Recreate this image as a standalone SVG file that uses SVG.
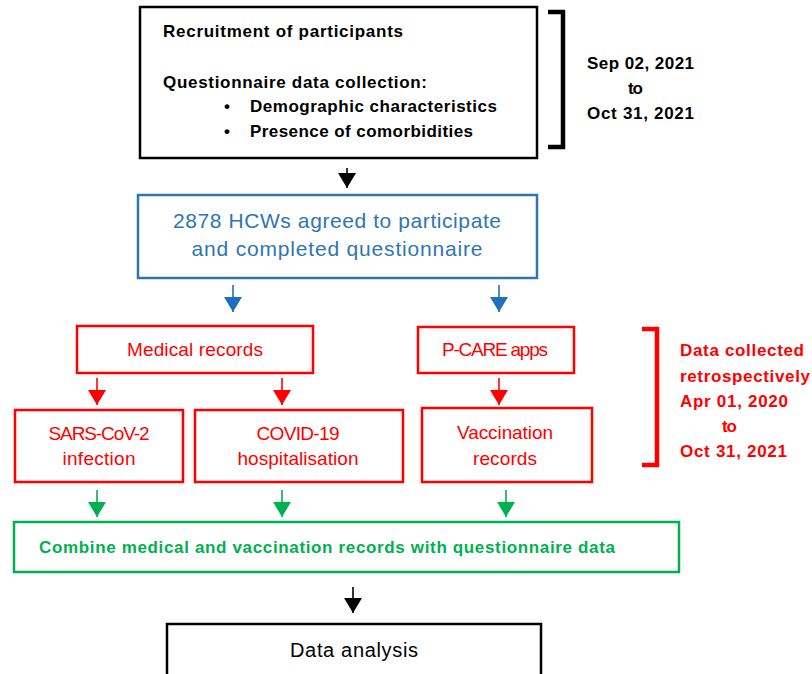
<svg xmlns="http://www.w3.org/2000/svg" width="812" height="674" viewBox="0 0 812 674">
<style>
  text { font-family: "Liberation Sans", Arial, sans-serif; }
  .b { font-weight: bold; }
  .k { fill: #000000; }
  .blue { fill: #2E75B6; }
  .red { fill: #FF0000; }
  .green { fill: #00B050; }
  .box { fill: #FFFFFF; stroke-width: 2.5; }
  .bk { stroke: #000000; }
  .bb { stroke: #2E75B6; }
  .br { stroke: #FF0000; }
  .bg { stroke: #00B050; }
  .shaft { fill: none; stroke-width: 1.6; }
  .bracket { fill: none; stroke-width: 4.5; stroke-linejoin: miter; }
</style>
<defs>
  <marker id="ak" markerUnits="userSpaceOnUse" viewBox="0 0 15 18" markerWidth="15" markerHeight="18" refX="15" refY="9" orient="auto"><path d="M0,0 L15,9 L0,18 Z" fill="#000000"/></marker>
  <marker id="ab" markerUnits="userSpaceOnUse" viewBox="0 0 15 18" markerWidth="15" markerHeight="18" refX="15" refY="9" orient="auto"><path d="M0,0 L15,9 L0,18 Z" fill="#1F6FC0"/></marker>
  <marker id="ar" markerUnits="userSpaceOnUse" viewBox="0 0 15 18" markerWidth="15" markerHeight="18" refX="15" refY="9" orient="auto"><path d="M0,0 L15,9 L0,18 Z" fill="#FF0000"/></marker>
  <marker id="ag" markerUnits="userSpaceOnUse" viewBox="0 0 15 18" markerWidth="15" markerHeight="18" refX="15" refY="9" orient="auto"><path d="M0,0 L15,9 L0,18 Z" fill="#00B050"/></marker>
</defs>
<rect width="812" height="674" fill="#FFFFFF"/>

<g id="recruitment">
  <rect class="box bk" x="140" y="7" width="397" height="151"/>
  <text class="b k" x="163" y="37" font-size="17" textLength="240">Recruitment of participants</text>
  <text class="b k" x="163" y="88" font-size="17" textLength="264">Questionnaire data collection:</text>
  <text class="b k" x="224" y="112" font-size="17">•</text>
  <text class="b k" x="250" y="112" font-size="17" textLength="247">Demographic characteristics</text>
  <text class="b k" x="224" y="137" font-size="17">•</text>
  <text class="b k" x="250" y="137" font-size="17" textLength="223">Presence of comorbidities</text>
</g>

<g id="period-questionnaire">
  <path class="bracket" stroke="#000000" d="M548,12 H563 V147 H548"/>
  <text class="b k" x="587" y="69" font-size="17" textLength="107">Sep 02, 2021</text>
  <text class="b k" x="628" y="94" font-size="17" textLength="15">to</text>
  <text class="b k" x="587" y="119" font-size="17" textLength="107">Oct 31, 2021</text>
</g>

<g id="participants">
  <rect class="box bb" x="138" y="195" width="399" height="83"/>
  <text class="blue" x="337" y="228" font-size="21" text-anchor="middle" textLength="328">2878 HCWs agreed to participate</text>
  <text class="blue" x="337" y="256" font-size="21" text-anchor="middle" textLength="291">and completed questionnaire</text>
</g>

<g id="medical-records">
  <rect class="box br" x="77" y="326" width="236" height="47"/>
  <text class="red" x="195" y="356" font-size="19" text-anchor="middle" textLength="136">Medical records</text>
</g>

<g id="pcare">
  <rect class="box br" x="418" y="327" width="156" height="46"/>
  <text class="red" x="495" y="356" font-size="19" text-anchor="middle" textLength="106">P-CARE apps</text>
</g>

<g id="sars">
  <rect class="box br" x="15" y="410" width="168" height="72"/>
  <text class="red" x="99" y="440" font-size="19" text-anchor="middle" textLength="101">SARS-CoV-2</text>
  <text class="red" x="99" y="465" font-size="19" text-anchor="middle" textLength="73">infection</text>
</g>

<g id="hospitalisation">
  <rect class="box br" x="195" y="410" width="208" height="72"/>
  <text class="red" x="298" y="440" font-size="19" text-anchor="middle" textLength="83">COVID-19</text>
  <text class="red" x="298" y="465" font-size="19" text-anchor="middle" textLength="121">hospitalisation</text>
</g>

<g id="vaccination">
  <rect class="box br" x="422" y="408" width="170" height="74"/>
  <text class="red" x="505" y="439" font-size="19" text-anchor="middle" textLength="96">Vaccination</text>
  <text class="red" x="505" y="465" font-size="19" text-anchor="middle" textLength="64">records</text>
</g>

<g id="period-retrospective">
  <path class="bracket" stroke="#FF0000" stroke-width="5" d="M642,329 H657 V465 H642"/>
  <text class="b red" x="680" y="356" font-size="17" textLength="124">Data collected</text>
  <text class="b red" x="680" y="382" font-size="17" textLength="130">retrospectively</text>
  <text class="b red" x="680" y="407" font-size="17" textLength="108">Apr 01, 2020</text>
  <text class="b red" x="722" y="432" font-size="17" textLength="15">to</text>
  <text class="b red" x="680" y="457" font-size="17" textLength="107">Oct 31, 2021</text>
</g>

<g id="combine">
  <rect class="box bg" x="14" y="522" width="665" height="50"/>
  <text class="b green" x="39" y="553" font-size="17" textLength="576">Combine medical and vaccination records with questionnaire data</text>
</g>

<g id="analysis">
  <rect class="box bk" x="167" y="624" width="374" height="80"/>
  <text class="k" x="354" y="657" font-size="20" text-anchor="middle" textLength="128">Data analysis</text>
</g>

<g id="connectors">
  <path class="shaft" stroke="#000000" marker-end="url(#ak)" d="M347,168 V188"/>
  <path class="shaft" stroke="#1F6FC0" marker-end="url(#ab)" d="M233,285 V312"/>
  <path class="shaft" stroke="#1F6FC0" marker-end="url(#ab)" d="M499,285 V312"/>
  <path class="shaft" stroke="#FF0000" marker-end="url(#ar)" d="M97,378 V405"/>
  <path class="shaft" stroke="#FF0000" marker-end="url(#ar)" d="M282,378 V405"/>
  <path class="shaft" stroke="#FF0000" marker-end="url(#ar)" d="M499,378 V405"/>
  <path class="shaft" stroke="#00B050" marker-end="url(#ag)" d="M97,490 V517"/>
  <path class="shaft" stroke="#00B050" marker-end="url(#ag)" d="M282,490 V517"/>
  <path class="shaft" stroke="#00B050" marker-end="url(#ag)" d="M506,490 V517"/>
  <path class="shaft" stroke="#000000" marker-end="url(#ak)" d="M353,587 V613"/>
</g>
</svg>
